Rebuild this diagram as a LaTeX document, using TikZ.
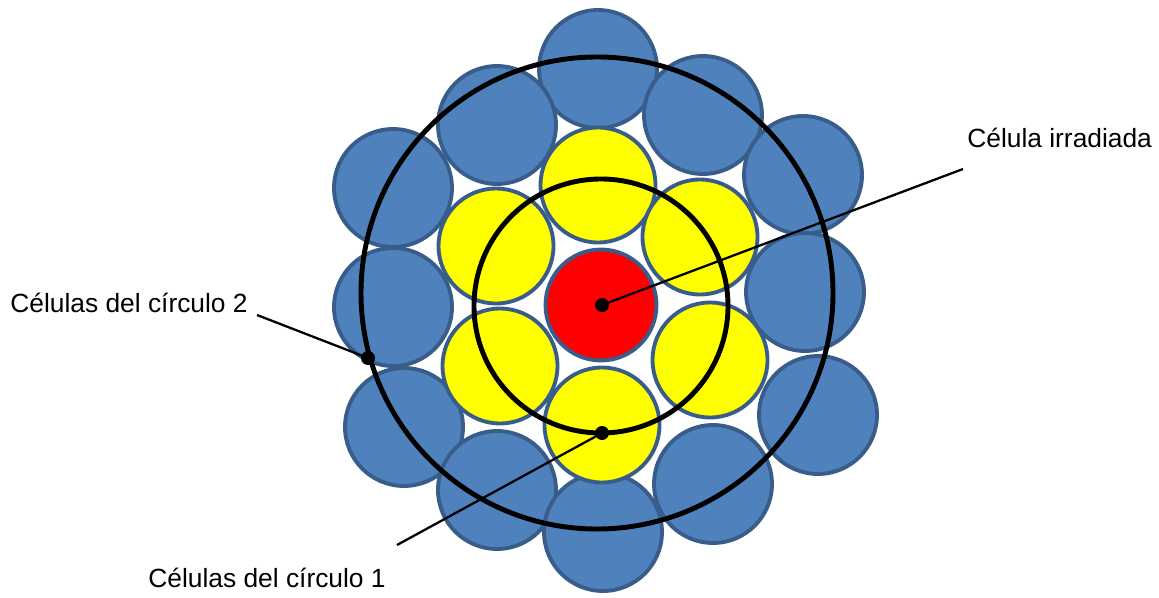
\documentclass[tikz,border=0pt]{standalone}
\usepackage{fontspec}
\setmainfont{Liberation Sans}
\definecolor{cellblue}{HTML}{4F81BD}
\definecolor{cellborder}{HTML}{385D8A}
\definecolor{cellyellow}{HTML}{FFFF00}
\definecolor{cellred}{HTML}{FF0000}

\begin{document}
\begin{tikzpicture}[x=0.02cm, y=-0.02cm,
    cell/.style={circle, draw=cellborder, line width=2.2pt, inner sep=0pt},
    outercell/.style={cell, fill=cellblue, minimum size=2.36cm},
    innercell/.style={cell, fill=cellyellow, minimum size=2.3cm},
    ring/.style={line width=2.8pt},
    lead/.style={line width=1.3pt},
    lbl/.style={anchor=base west, inner sep=0pt, font=\fontsize{15}{18}\selectfont}]
        \useasboundingbox (0,0) rectangle (1159,598);

        % Draw cells of circle 2
        \node[outercell] (b1) at (598,69) {};
        \node[outercell] (b2) at (497,125) {};
        \node[outercell] (b3) at (703,115) {};
        \node[outercell] (b4) at (393,188) {};
        \node[outercell] (b5) at (803,175) {};
        \node[outercell] (b6) at (393,307) {};
        \node[outercell] (b7) at (805,292) {};
        \node[outercell] (b8) at (404,427) {};
        \node[outercell] (b9) at (818,415) {};
        \node[outercell] (b10) at (497,490) {};
        \node[outercell] (b11) at (713,484) {};
        \node[outercell] (b12) at (603,532) {};

        % Draw cells of circle 1
        \node[innercell] (y1) at (598,185) {};
        \node[innercell] (y2) at (496,246) {};
        \node[innercell] (y3) at (700,237) {};
        \node[innercell] (y4) at (500,366) {};
        \node[innercell] (y5) at (710,360) {};
        \node[innercell] (y6) at (602,425) {};

        % Irradiated cell
        \node[cell, fill=cellred, minimum size=2.22cm] (red) at (601,305) {};

        % Draw circles
        \draw[ring] (601,306) circle[radius=127];
        \draw[ring] (597,293) circle[radius=236];

        % Points on the circles
        \coordinate (d0) at (602,305);
        \coordinate (d1) at (602,433);
        \coordinate (d2) at (368,358);
        \fill (d0) circle[radius=7];
        \fill (d1) circle[radius=7];
        \fill (d2) circle[radius=7];

        % Labels
        \node[lbl] (irr) at (967,148) {Célula irradiada};
        \node[lbl] (c2) at (10,312) {Células del círculo 2};
        \node[lbl] (c1) at (148,587) {Células del círculo 1};
        \coordinate (e0) at (963,169);
        \coordinate (e2) at (257,315);
        \coordinate (e1) at (397,545);
        \draw[lead] (e0) -- (d0);
        \draw[lead] (e2) -- (d2);
        \draw[lead] (e1) -- (d1);
    \end{tikzpicture}
\end{document}
